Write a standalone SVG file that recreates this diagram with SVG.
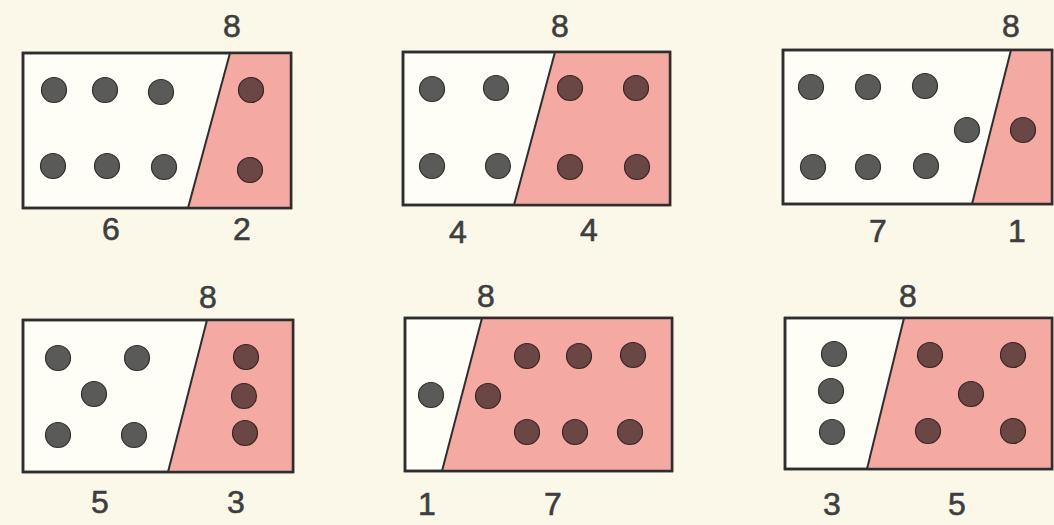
<svg xmlns="http://www.w3.org/2000/svg" width="1054" height="525" viewBox="0 0 1054 525">
<style>
.bg{fill:#fbf8ea}
.box{fill:#fefdf6;stroke:#2e2e2e;stroke-width:2.5}
.frame{fill:none;stroke:#2e2e2e;stroke-width:2.5}
.pink{fill:#f4a9a2}
.div{stroke:#2e2e2e;stroke-width:2;fill:none}
.d{fill:#5a5a58;stroke:#2f2f2f;stroke-width:1.2}
.p{fill:#6a4644;stroke:#3a2524;stroke-width:1.2}
text{font-family:"Liberation Sans",Arial,sans-serif;font-size:32px;fill:#3e3e3e;stroke:#3e3e3e;stroke-width:0.6;text-anchor:middle}
</style>
<rect class="bg" x="0" y="0" width="1054" height="525"/>

<g id="box-6-2">
<rect class="box" x="23" y="53" width="268" height="155"/>
<polygon class="pink" points="230,53 291,53 291,208 188,208"/>
<line class="div" x1="230" y1="53" x2="188" y2="208"/>
<rect class="frame" x="23" y="53" width="268" height="155"/>
<circle class="d" cx="54" cy="90" r="12.5"/>
<circle class="d" cx="105" cy="90" r="12.5"/>
<circle class="d" cx="161" cy="92" r="12.5"/>
<circle class="d" cx="53" cy="166" r="12.5"/>
<circle class="d" cx="107" cy="166" r="12.5"/>
<circle class="d" cx="164" cy="167" r="12.5"/>
<circle class="p" cx="251" cy="90" r="12.5"/>
<circle class="p" cx="250" cy="170" r="12.5"/>
<text x="232" y="37">8</text>
<text x="111" y="240">6</text>
<text x="242" y="240">2</text>
</g>

<g id="box-4-4">
<rect class="box" x="403" y="52" width="267" height="153"/>
<polygon class="pink" points="555,52 670,52 670,205 514,205"/>
<line class="div" x1="555" y1="52" x2="514" y2="205"/>
<rect class="frame" x="403" y="52" width="267" height="153"/>
<circle class="d" cx="432" cy="89" r="12.5"/>
<circle class="d" cx="496" cy="88" r="12.5"/>
<circle class="d" cx="432" cy="166" r="12.5"/>
<circle class="d" cx="498" cy="166" r="12.5"/>
<circle class="p" cx="570" cy="88" r="12.5"/>
<circle class="p" cx="636" cy="88" r="12.5"/>
<circle class="p" cx="570" cy="167" r="12.5"/>
<circle class="p" cx="637" cy="167" r="12.5"/>
<text x="560" y="37">8</text>
<text x="458" y="243">4</text>
<text x="589" y="241">4</text>
</g>

<g id="box-7-1">
<rect class="box" x="783" y="50" width="269" height="154"/>
<polygon class="pink" points="1011,50 1052,50 1052,204 972,204"/>
<line class="div" x1="1011" y1="50" x2="972" y2="204"/>
<rect class="frame" x="783" y="50" width="269" height="154"/>
<circle class="d" cx="811" cy="87" r="12.5"/>
<circle class="d" cx="868" cy="87" r="12.5"/>
<circle class="d" cx="925" cy="86" r="12.5"/>
<circle class="d" cx="967" cy="130" r="12.5"/>
<circle class="d" cx="813" cy="167" r="12.5"/>
<circle class="d" cx="868" cy="167" r="12.5"/>
<circle class="d" cx="926" cy="166" r="12.5"/>
<circle class="p" cx="1023" cy="130" r="12.5"/>
<text x="1011" y="37">8</text>
<text x="878" y="242">7</text>
<text x="1017" y="242">1</text>
</g>

<g id="box-5-3">
<rect class="box" x="23" y="320" width="270" height="152"/>
<polygon class="pink" points="207,320 293,320 293,472 168,472"/>
<line class="div" x1="207" y1="320" x2="168" y2="472"/>
<rect class="frame" x="23" y="320" width="270" height="152"/>
<circle class="d" cx="58" cy="358" r="12.5"/>
<circle class="d" cx="137" cy="358" r="12.5"/>
<circle class="d" cx="94" cy="394" r="12.5"/>
<circle class="d" cx="58" cy="435" r="12.5"/>
<circle class="d" cx="134" cy="435" r="12.5"/>
<circle class="p" cx="246" cy="357" r="12.5"/>
<circle class="p" cx="244" cy="396" r="12.5"/>
<circle class="p" cx="245" cy="433" r="12.5"/>
<text x="208" y="308">8</text>
<text x="100" y="513">5</text>
<text x="236" y="513">3</text>
</g>

<g id="box-1-7">
<rect class="box" x="405" y="318" width="267" height="153"/>
<polygon class="pink" points="482,318 672,318 672,471 442,471"/>
<line class="div" x1="482" y1="318" x2="442" y2="471"/>
<rect class="frame" x="405" y="318" width="267" height="153"/>
<circle class="d" cx="431" cy="395" r="12.5"/>
<circle class="p" cx="488" cy="396" r="12.5"/>
<circle class="p" cx="527" cy="356" r="12.5"/>
<circle class="p" cx="579" cy="356" r="12.5"/>
<circle class="p" cx="633" cy="355" r="12.5"/>
<circle class="p" cx="527" cy="432" r="12.5"/>
<circle class="p" cx="575" cy="432" r="12.5"/>
<circle class="p" cx="630" cy="432" r="12.5"/>
<text x="486" y="307">8</text>
<text x="427" y="515">1</text>
<text x="553" y="515">7</text>
</g>

<g id="box-3-5">
<rect class="box" x="785" y="318" width="267" height="151"/>
<polygon class="pink" points="904,318 1052,318 1052,469 867,469"/>
<line class="div" x1="904" y1="318" x2="867" y2="469"/>
<rect class="frame" x="785" y="318" width="267" height="151"/>
<circle class="d" cx="834" cy="354" r="12.5"/>
<circle class="d" cx="831" cy="391" r="12.5"/>
<circle class="d" cx="832" cy="432" r="12.5"/>
<circle class="p" cx="930" cy="355" r="12.5"/>
<circle class="p" cx="1013" cy="355" r="12.5"/>
<circle class="p" cx="971" cy="394" r="12.5"/>
<circle class="p" cx="928" cy="431" r="12.5"/>
<circle class="p" cx="1013" cy="431" r="12.5"/>
<text x="908" y="307">8</text>
<text x="832" y="515">3</text>
<text x="957" y="515">5</text>
</g>
</svg>
